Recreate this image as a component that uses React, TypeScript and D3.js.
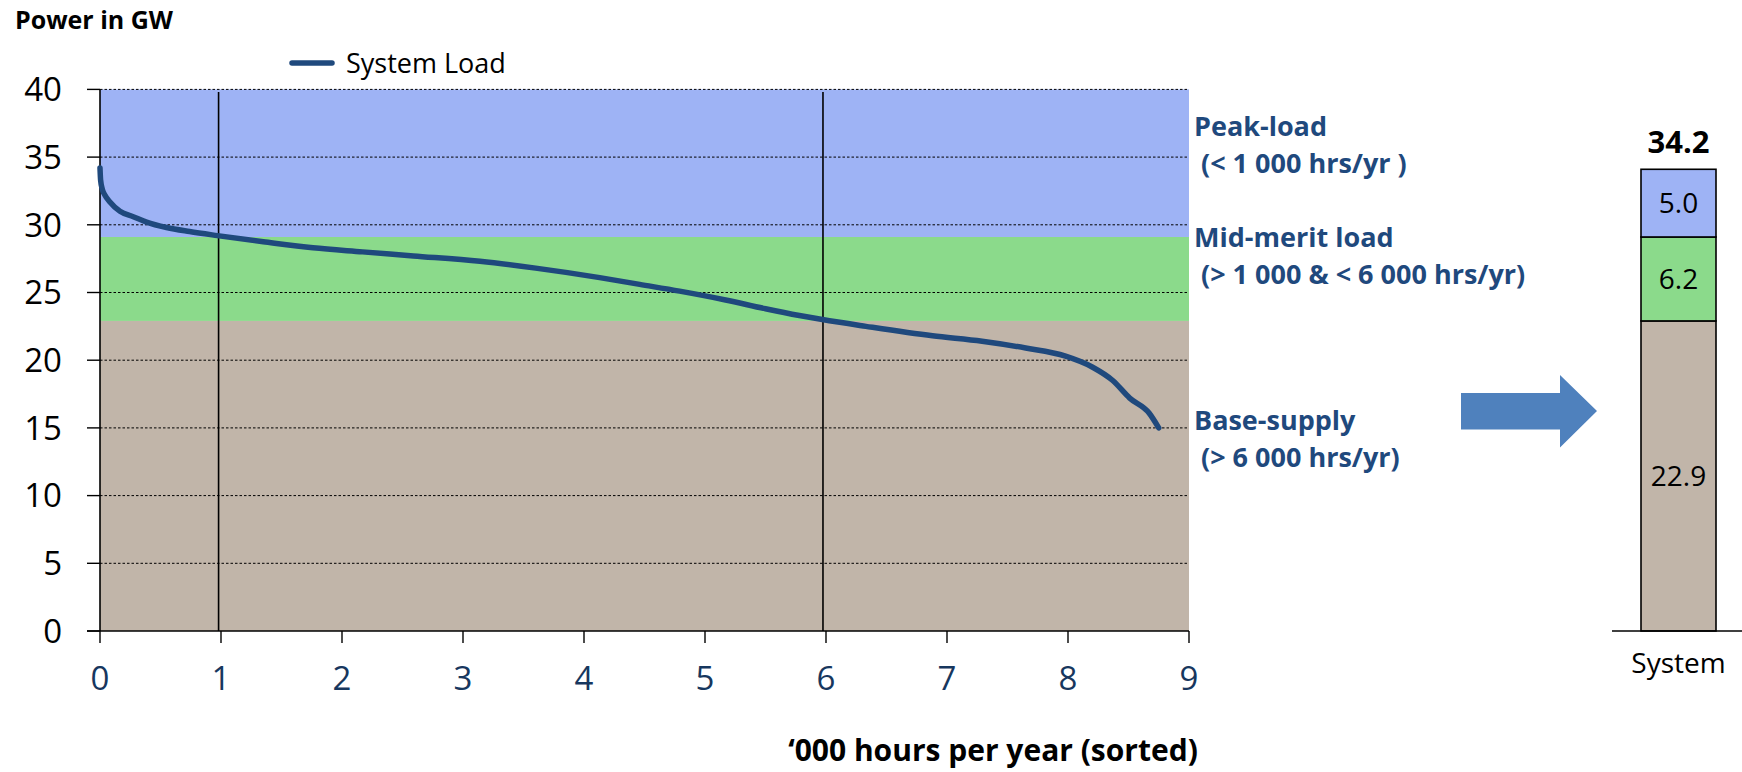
import React from "react";
import * as d3 from "d3";

// ---- data ----
const hoursK: number[] = [0, 0.005, 0.02, 0.04, 0.08, 0.165, 0.275, 0.385, 0.55, 0.74, 0.97, 1.35, 1.76, 2.17, 2.59, 3.14, 3.6, 4.13, 4.46, 4.79, 5.17, 5.5, 5.78, 5.97, 6.33, 6.88, 7.29, 7.65, 7.98, 8.2, 8.37, 8.51, 8.67, 8.75];
const loadGW: number[] = [34.2, 33.3, 32.6, 32.2, 31.7, 31.0, 30.6, 30.2, 29.8, 29.5, 29.2, 28.75, 28.3, 28.0, 27.7, 27.3, 26.8, 26.1, 25.6, 25.1, 24.45, 23.8, 23.3, 23.0, 22.5, 21.8, 21.4, 20.9, 20.3, 19.5, 18.5, 17.2, 16.1, 15.0];

const xTicks: number[] = [0, 1, 2, 3, 4, 5, 6, 7, 8, 9];
const yTicks: number[] = [0, 5, 10, 15, 20, 25, 30, 35, 40];
const dividers: number[] = [0.98, 5.975];

const segNames: string[] = ["Base-supply", "Mid-merit load", "Peak-load"];
const segValues: number[] = [22.9, 6.2, 5.0];
const segColors: string[] = ["#C1B5A9", "#8BDA8B", "#9EB3F5"];
const segNotes: string[] = ["(> 6 000 hrs/yr)", "(> 1 000 & < 6 000 hrs/yr)", "(< 1 000 hrs/yr )"];
const barCategory = "System";
const barTotal = 34.2;

const FONT = "'Open Sans', 'DejaVu Sans', sans-serif";
const NAVY = "#1F497D";

export default function App() {
  const x = d3.scaleLinear().domain([0, 9]).range([100, 1189]);
  const y = d3.scaleLinear().domain([0, 40]).range([631, 89.4]);

  const cum: number[] = [];
  segValues.reduce((acc, v, i) => { cum[i] = acc + v; return acc + v; }, 0);
  const lower = (i: number) => (i === 0 ? 0 : cum[i - 1]);
  const bandTop = (i: number) => (i === segValues.length - 1 ? 40 : cum[i]);

  const line = d3.line<number>()
    .x((_, i) => x(hoursK[i]))
    .y((d) => y(d))
    .curve(d3.curveMonotoneX);

  const barX0 = 1641;
  const barX1 = 1716;
  const barCx = (barX0 + barX1) / 2;

  // annotation baselines (first line) per segment: base, mid, peak
  const noteY = [430, 247, 136];

  return (
    <svg width={1742} height={772} style={{ position: "absolute", left: 0, top: 0 }} fontFamily={FONT}>
      <rect x={0} y={0} width={1742} height={772} fill="#fff" />
      {/* bands */}
      {segValues.map((v, i) => (
        <rect key={"b" + i} x={x(0)} width={x(9) - x(0)} y={y(bandTop(i))} height={y(lower(i)) - y(bandTop(i))} fill={segColors[i]} />
      ))}
      {/* gridlines */}
      {yTicks.filter((t) => t > 0).map((t) => (
        <line key={"g" + t} x1={x(0)} x2={x(9)} y1={y(t)} y2={y(t)} stroke="#000" strokeWidth={1} strokeDasharray="2.5,2" />
      ))}
      {/* dividers */}
      {dividers.map((d) => (
        <line key={"d" + d} x1={x(d)} x2={x(d)} y1={y(39.8)} y2={y(0)} stroke="#000" strokeWidth={1.6} />
      ))}
      {/* axes */}
      <line x1={x(0)} x2={x(0)} y1={y(40)} y2={y(0)} stroke="#000" strokeWidth={1.6} />
      <line x1={87} x2={x(9)} y1={y(0)} y2={y(0)} stroke="#000" strokeWidth={1.6} />
      {yTicks.map((t) => (
        <g key={"yt" + t}>
          <line x1={87} x2={x(0)} y1={y(t)} y2={y(t)} stroke="#000" strokeWidth={1.4} />
          <text x={62} y={y(t)} dy="0.36em" textAnchor="end" fontSize={33} fill="#000">{t}</text>
        </g>
      ))}
      {xTicks.map((t) => (
        <g key={"xt" + t}>
          <line x1={x(t)} x2={x(t)} y1={y(0)} y2={643} stroke="#000" strokeWidth={1.4} />
          <text x={x(t)} y={690} textAnchor="middle" fontSize={33} fill="#17375E">{t}</text>
        </g>
      ))}
      {/* load curve */}
      <path d={line(loadGW) || ""} fill="none" stroke={NAVY} strokeWidth={5.5} strokeLinecap="round" strokeLinejoin="round" />

      {/* titles */}
      <text x={15} y={29} fontSize={25} fontWeight="bold" fill="#000">Power in GW</text>
      <text x={993} y={761} textAnchor="middle" fontSize={30} fontWeight="bold" fill="#000">‘000 hours per year (sorted)</text>

      {/* legend */}
      <line x1={292} x2={332} y1={63} y2={63} stroke={NAVY} strokeWidth={5.5} strokeLinecap="round" />
      <text x={346} y={73} fontSize={27} fill="#000">System Load</text>

      {/* annotations */}
      {segNames.map((n, i) => (
        <g key={"n" + i} fontWeight="bold" fill={NAVY} fontSize={27}>
          <text x={1194} y={noteY[i]}>{n}</text>
          <text x={1194} y={noteY[i] + 37} xmlSpace="preserve" style={{ whiteSpace: "pre" }}>{" " + segNotes[i]}</text>
        </g>
      ))}

      {/* arrow */}
      <path d="M1461,393 L1560,393 L1560,375 L1597,411 L1560,447.5 L1560,429.5 L1461,429.5 Z" fill="#4F81BD" />

      {/* stacked bar */}
      {segValues.map((v, i) => (
        <g key={"s" + i}>
          <rect x={barX0} width={barX1 - barX0} y={y(lower(i) + v)} height={y(lower(i)) - y(lower(i) + v)} fill={segColors[i]} stroke="#000" strokeWidth={1.6} />
          <text x={barCx} y={(y(lower(i)) + y(lower(i) + v)) / 2} dy="0.36em" textAnchor="middle" fontSize={28} fill="#000">{v.toFixed(1)}</text>
        </g>
      ))}
      <text x={barCx} y={153} textAnchor="middle" fontSize={31} fontWeight="bold" fill="#000">{barTotal.toFixed(1)}</text>
      <line x1={1612} x2={1742} y1={y(0)} y2={y(0)} stroke="#000" strokeWidth={1.6} />
      <text x={barCx} y={673} textAnchor="middle" fontSize={28} fill="#000">{barCategory}</text>
    </svg>
  );
}
